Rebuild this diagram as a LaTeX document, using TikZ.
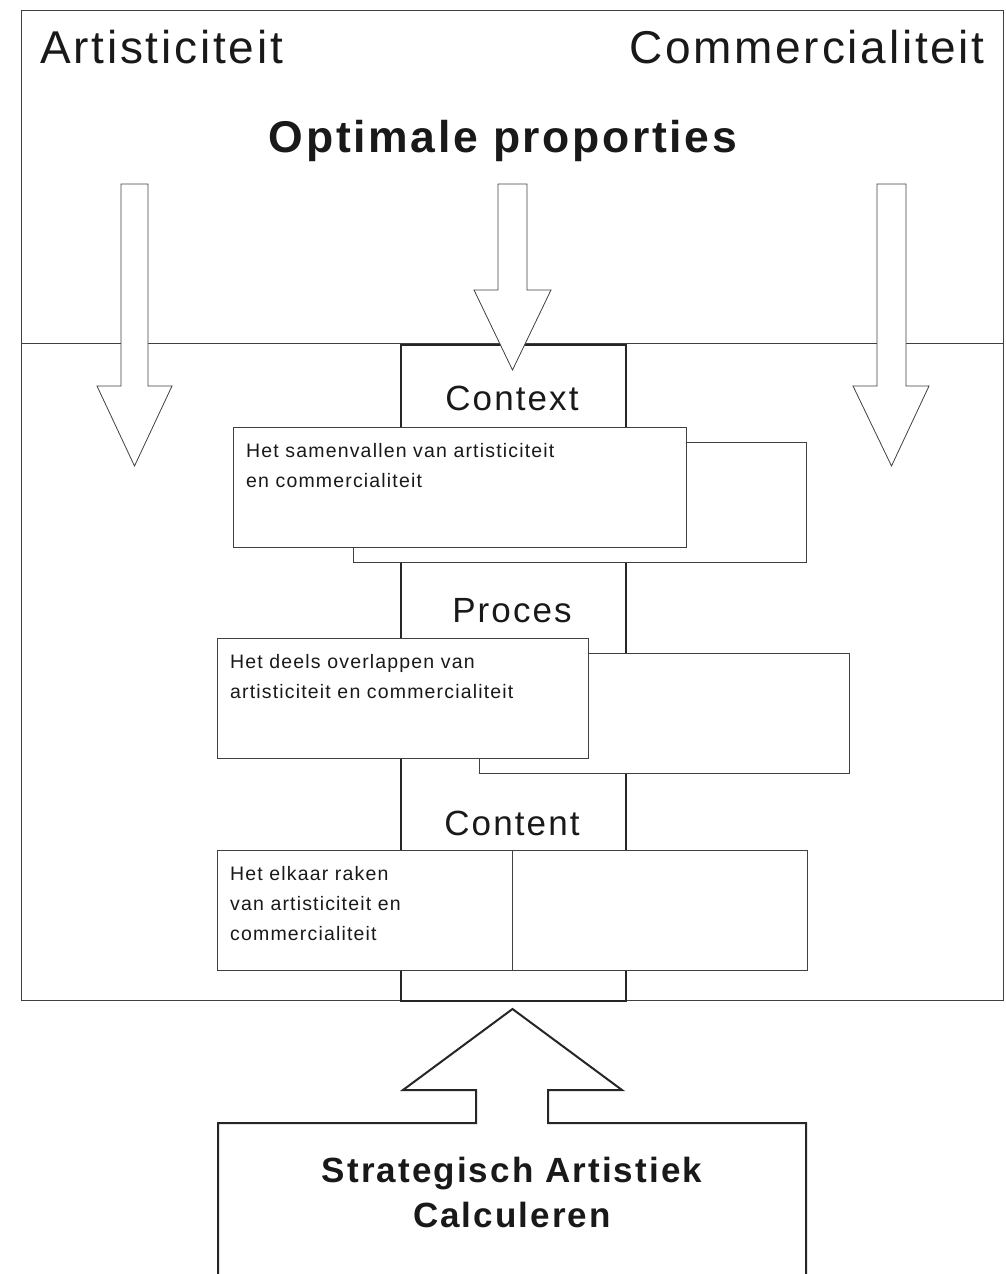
\documentclass[tikz,border=0pt]{standalone}
\usepackage{fontspec}
\setmainfont[LetterSpace=6]{Liberation Sans}
\begin{document}
\begin{tikzpicture}[x=1pt,y=-1pt,
  framebox/.style={draw=black!75, line width=1pt, inner sep=0pt, anchor=north west},
  corebox/.style={draw=black!85, line width=2.2pt, inner sep=0pt, anchor=north west},
  plainbox/.style={draw=black!75, line width=1pt, fill=white, inner sep=0pt, anchor=north west},
  blockarrow/.style={draw=black!75, line width=0.8pt, fill=white, line join=miter},
  basearrow/.style={draw=black!85, line width=2pt, fill=white, line join=miter},
  bigtxt/.style={inner sep=0pt, text=black!90, font=\fontsize{46}{50}\selectfont},
  headtxt/.style={inner sep=0pt, text=black!90, font=\bfseries\fontsize{44.5}{50}\selectfont},
  midtxt/.style={inner sep=0pt, text=black!90, font=\fontsize{35}{40}\selectfont},
  smalltxt/.style={inner sep=0pt, text=black!90, align=left, anchor=north west, font=\fontsize{19.5}{30}\selectfont},
  basetxt/.style={inner sep=0pt, text=black!90, align=center, anchor=north, font=\bfseries\fontsize{35}{45}\selectfont}
]
\useasboundingbox (0,0) rectangle (1006,1274);
% frames
\node[framebox, minimum width=982, minimum height=333] (topframe) at (21,10) {};
\node[framebox, minimum width=982, minimum height=657] (botframe) at (21,343) {};
\node[corebox, minimum width=225, minimum height=656] (core) at (400,344) {};
% boxes
\node[plainbox, minimum width=453, minimum height=120] (b1back) at (353,442) {};
\node[plainbox, minimum width=453, minimum height=120] (b1front) at (233,427) {};
\node[plainbox, minimum width=370, minimum height=120] (b2back) at (479,653) {};
\node[plainbox, minimum width=371, minimum height=120] (b2front) at (217,638) {};
\node[plainbox, minimum width=590, minimum height=120] (b3) at (217,850) {};
\draw[draw=black!75, line width=1pt] (b3.north) -- (b3.south);
% arrows
\draw[blockarrow] (121,184) -- (148,184) -- (148,386) -- (172,386) -- (134.5,466) -- (97,386) -- (121,386) -- cycle;
\draw[blockarrow] (498,184) -- (527,184) -- (527,290) -- (551,290) -- (512.5,370) -- (474,290) -- (498,290) -- cycle;
\draw[blockarrow] (877,184) -- (906,184) -- (906,386) -- (929,386) -- (891.5,466) -- (853,386) -- (877,386) -- cycle;
% base arrow box
\draw[basearrow] (218,1280) -- (218,1123) -- (476,1123) -- (476,1090) -- (403,1090) -- (512.5,1009) -- (622,1090) -- (548,1090) -- (548,1123) -- (806,1123) -- (806,1280);
% texts
\node[bigtxt, anchor=base west] (art) at (40,63) {Artisticiteit};
\node[bigtxt, anchor=base east] (com) at (985,63) {Commercialiteit};
\node[headtxt, anchor=base] (opt) at (503,152) {Optimale proporties};
\node[midtxt, anchor=base] (ctx) at (512,410) {Context};
\node[midtxt, anchor=base] (pro) at (512,622) {Proces};
\node[midtxt, anchor=base] (cnt) at (512,835) {Content};
\node[smalltxt] (t1) at (246,443) {Het samenvallen van artisticiteit\\en commercialiteit};
\node[smalltxt] (t2) at (230,654) {Het deels overlappen van\\artisticiteit en commercialiteit};
\node[smalltxt] (t3) at (230,866) {Het elkaar raken\\van artisticiteit en\\commercialiteit};
\node[basetxt] (sac) at (512,1157) {Strategisch Artistiek\\Calculeren};
\end{tikzpicture}
\end{document}
